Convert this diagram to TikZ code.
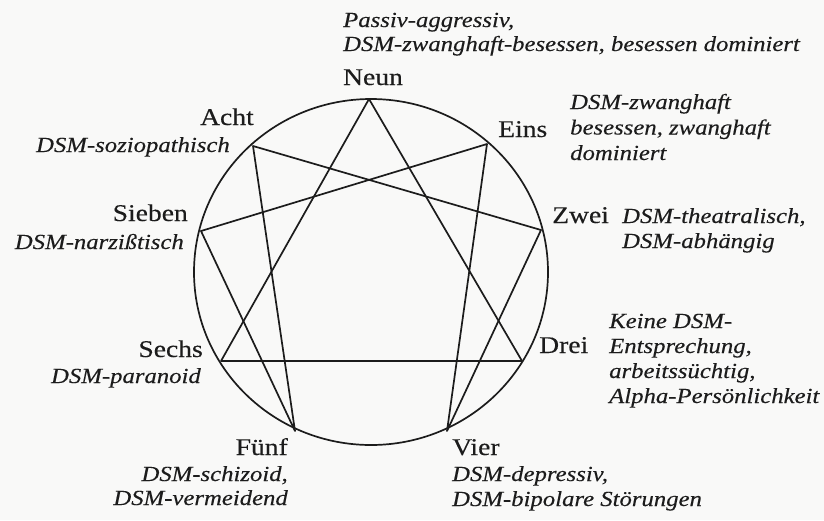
\documentclass[tikz,border=0pt]{standalone}
\usepackage{fontspec}
\setmainfont{Liberation Serif}[FakeStretch=1.15,FakeBold=0.25]
\definecolor{ink}{RGB}{28,28,28}
\definecolor{paper}{RGB}{249,249,248}
\begin{document}
\begin{tikzpicture}[x=1pt,y=-1pt,
  edge/.style={draw=ink,line width=1.7pt,line join=round},
  pointlabel/.style={inner sep=0pt,text=ink,font=\fontsize{24}{26}\selectfont},
  desc/.style={inner sep=0pt,text=ink,font=\fontsize{21.5}{25}\selectfont\itshape}]
\fill[paper] (0,0) rectangle (824,520);
\useasboundingbox (0,0) rectangle (824,520);
% circle
\draw[edge] (371,272) ellipse [x radius=177, y radius=173];
% points
\coordinate (p9) at (369,99);
\coordinate (p1) at (487,144);
\coordinate (p2) at (541,230);
\coordinate (p3) at (522,361);
\coordinate (p4) at (447,431);
\coordinate (p5) at (295,431);
\coordinate (p6) at (221,361);
\coordinate (p7) at (201,231);
\coordinate (p8) at (253,146);
% triangle
\draw[edge] (p9) -- (p3) -- (p6) -- cycle;
% hexad
\draw[edge] (p1) -- (p4) -- (p2) -- (p8) -- (p5) -- (p7) -- cycle;
% labels
\node[pointlabel,anchor=base] (l9) at (373,85) {Neun};
\node[pointlabel,anchor=base west] (l1) at (498,137) {Eins};
\node[pointlabel,anchor=base west] (l2) at (552,223) {Zwei};
\node[pointlabel,anchor=base west] (l3) at (539,353) {Drei};
\node[pointlabel,anchor=base west] (l4) at (452,455) {Vier};
\node[pointlabel,anchor=base east] (l5) at (288,455) {Fünf};
\node[pointlabel,anchor=base east] (l6) at (203,357) {Sechs};
\node[pointlabel,anchor=base east] (l7) at (188,221) {Sieben};
\node[pointlabel,anchor=base east] (l8) at (254,125) {Acht};
% descriptions (anchor = baseline of the last line)
\node[desc,font=\fontsize{21.5}{24}\selectfont\itshape,anchor=base west,align=left] (d9) at (343,51) {Passiv-aggressiv,\\DSM-zwanghaft-besessen, besessen dominiert};
\node[desc,font=\fontsize{21.5}{25.5}\selectfont\itshape,anchor=base west,align=left] (d1) at (570,160) {DSM-zwanghaft\\besessen, zwanghaft\\dominiert};
\node[desc,anchor=base west,align=left] (d2) at (622,248) {DSM-theatralisch,\\DSM-abhängig};
\node[desc,anchor=base west,align=left] (d3) at (609,403) {Keine DSM-\\Entsprechung,\\arbeitssüchtig,\\Alpha-Persönlichkeit};
\node[desc,anchor=base west,align=left] (d4) at (452,506) {DSM-depressiv,\\DSM-bipolare Störungen};
\node[desc,font=\fontsize{21.5}{24}\selectfont\itshape,anchor=base east,align=right] (d5) at (288,505) {DSM-schizoid,\\DSM-vermeidend};
\node[desc,anchor=base east] (d6) at (201,383) {DSM-paranoid};
\node[desc,anchor=base east] (d7) at (184,249) {DSM-narzißtisch};
\node[desc,anchor=base east] (d8) at (230,152) {DSM-soziopathisch};
\end{tikzpicture}
\end{document}
